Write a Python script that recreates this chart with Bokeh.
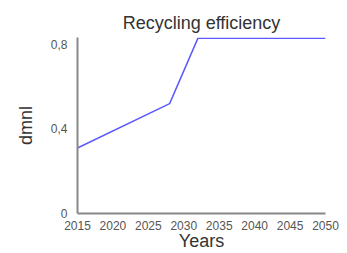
from bokeh.plotting import figure
from bokeh.models import Range1d, FixedTicker
from bokeh.embed import file_html
from bokeh.resources import INLINE

years = [2015, 2028, 2032, 2050]
efficiency = [0.31, 0.52, 0.83, 0.83]
x_ticks = [2015, 2020, 2025, 2030, 2035, 2040, 2045, 2050]
y_ticks = [0, 0.4, 0.8]
y_tick_labels = ["0", "0,4", "0,8"]

p = figure(width=347, height=253, output_backend="svg", toolbar_location=None,
           x_range=Range1d(2015, 2050), y_range=Range1d(0, 0.833),
           min_border_left=77, min_border_right=22, min_border_top=37, min_border_bottom=39)

p.title.text = "Recycling efficiency"
p.title.align = "center"
p.title.text_font = "Liberation Sans"
p.title.text_font_size = "18px"
p.title.text_font_style = "normal"
p.title.text_color = "#333333"
p.title.offset = 0

p.line(years, efficiency, line_color="#5a5aff", line_width=1.5)

p.xgrid.visible = False
p.ygrid.visible = False
p.outline_line_color = None
p.background_fill_color = "white"
p.border_fill_color = "white"

for ax in (p.xaxis[0], p.yaxis[0]):
    ax.axis_line_color = "#888888"
    ax.axis_line_width = 2
    ax.major_tick_line_color = None
    ax.minor_tick_line_color = None
    ax.major_label_text_font = "Liberation Sans"
    ax.major_label_text_font_size = "12px"
    ax.major_label_text_color = "#555555"
    ax.axis_label_text_font = "Liberation Sans"
    ax.axis_label_text_font_size = "18px"
    ax.axis_label_text_font_style = "normal"
    ax.axis_label_text_color = "#333333"

p.xaxis[0].ticker = FixedTicker(ticks=x_ticks)
p.xaxis[0].major_label_standoff = 1
p.xaxis[0].axis_label = "Years"
p.xaxis[0].axis_label_standoff = -2

p.yaxis[0].ticker = FixedTicker(ticks=y_ticks)
p.yaxis[0].major_label_overrides = {t: l for t, l in zip(y_ticks, y_tick_labels)}
p.yaxis[0].major_label_standoff = 4
p.yaxis[0].axis_label = "dmnl"
p.yaxis[0].axis_label_standoff = 12

open("out.html", "w").write(file_html(p, INLINE))
